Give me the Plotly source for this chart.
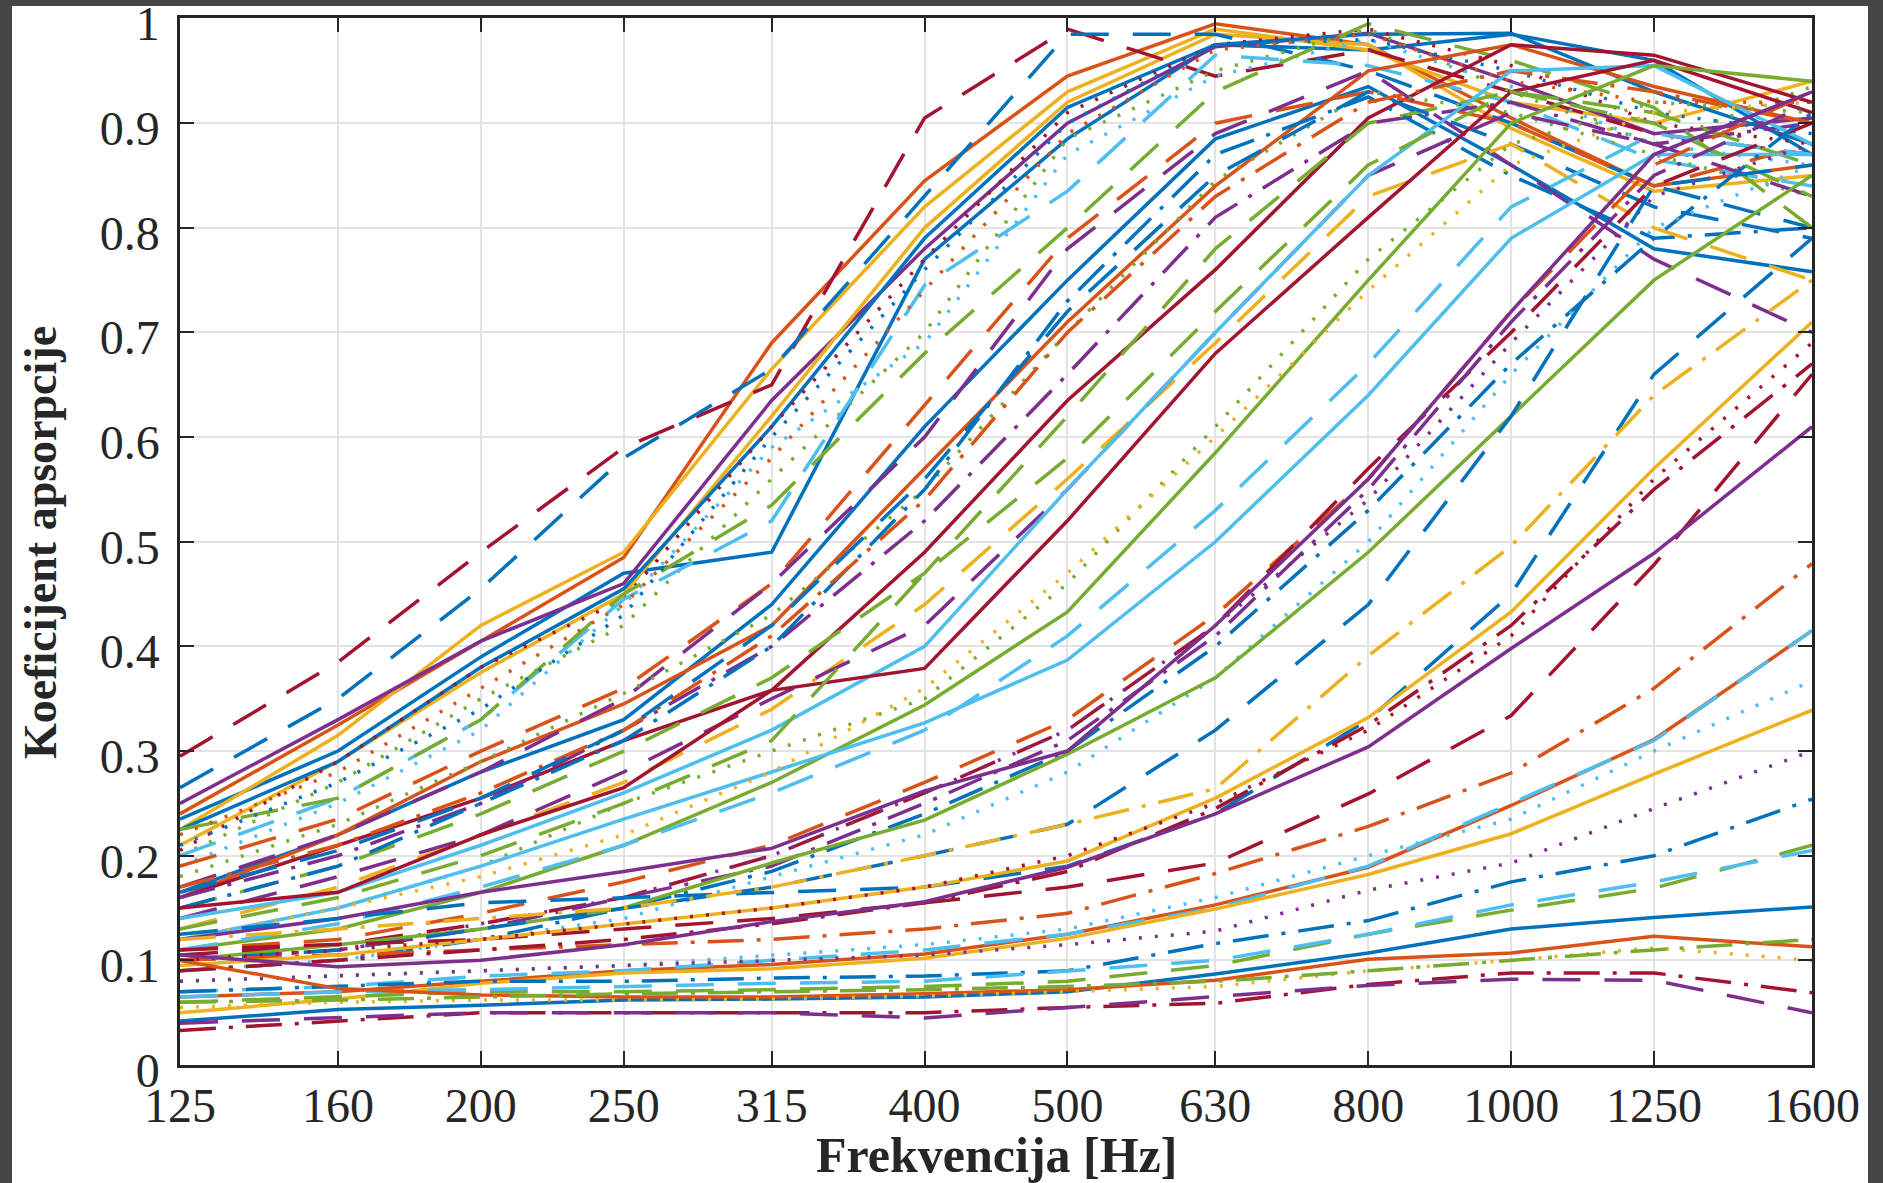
import math
import plotly.graph_objects as go

# ---------------- data ----------------
freqs = [125, 160, 200, 250, 315, 400, 500, 630, 800, 1000, 1250, 1600]
freq_labels = ["125", "160", "200", "250", "315", "400", "500", "630", "800", "1000", "1250", "1600"]
y_ticks = [0, 0.1, 0.2, 0.3, 0.4, 0.5, 0.6, 0.7, 0.8, 0.9, 1.0]
y_labels = ["0", "0.1", "0.2", "0.3", "0.4", "0.5", "0.6", "0.7", "0.8", "0.9", "1"]

# top family (peak near 630-800 Hz)
s01 = [0.235, 0.30, 0.39, 0.47, 0.49, 0.77, 0.885, 0.975, 0.97, 0.985, 0.96, 0.87]
s02 = [0.24, 0.325, 0.405, 0.485, 0.69, 0.845, 0.945, 0.995, 0.975, 0.905, 0.84, 0.86]
s03 = [0.225, 0.315, 0.42, 0.49, 0.665, 0.82, 0.93, 0.99, 0.97, 0.92, 0.90, 0.94]
s04 = [0.25, 0.33, 0.405, 0.46, 0.635, 0.78, 0.90, 0.973, 0.986, 0.94, 0.89, 0.905]
s05 = [0.21, 0.29, 0.375, 0.45, 0.62, 0.80, 0.92, 0.985, 0.975, 0.895, 0.835, 0.85]
s06 = [0.225, 0.29, 0.38, 0.455, 0.61, 0.79, 0.915, 0.975, 0.985, 0.986, 0.93, 0.88]
s07 = [0.295, 0.385, 0.49, 0.59, 0.65, 0.905, 0.99, 0.945, 0.97, 0.93, 0.89, 0.87]
s08 = [0.265, 0.35, 0.455, 0.58, 0.665, 0.83, 0.985, 0.985, 0.95, 0.90, 0.84, 0.80]
s09 = [0.205, 0.29, 0.38, 0.445, 0.61, 0.77, 0.91, 0.975, 0.99, 0.955, 0.90, 0.88]
s10 = [0.20, 0.27, 0.35, 0.42, 0.56, 0.70, 0.885, 0.95, 0.99, 0.93, 0.88, 0.935]
s11 = [0.20, 0.255, 0.33, 0.445, 0.52, 0.745, 0.835, 0.965, 0.955, 0.92, 0.865, 0.84]
s12 = [0.19, 0.25, 0.32, 0.44, 0.59, 0.69, 0.87, 0.945, 0.98, 0.935, 0.88, 0.86]
s13 = [0.225, 0.255, 0.33, 0.45, 0.535, 0.68, 0.80, 0.93, 0.995, 0.96, 0.915, 0.80]
s14 = [0.21, 0.27, 0.34, 0.43, 0.60, 0.76, 0.90, 0.975, 0.98, 0.95, 0.91, 0.89]
s15 = [0.22, 0.28, 0.36, 0.44, 0.58, 0.74, 0.89, 0.97, 0.985, 0.94, 0.92, 0.92]
# second family
s16 = [0.165, 0.22, 0.28, 0.33, 0.44, 0.61, 0.75, 0.885, 0.935, 0.86, 0.78, 0.758]
s17 = [0.16, 0.22, 0.29, 0.345, 0.42, 0.57, 0.71, 0.84, 0.95, 0.975, 0.935, 0.90]
s18 = [0.16, 0.21, 0.255, 0.31, 0.358, 0.49, 0.635, 0.76, 0.905, 0.975, 0.965, 0.92]
s19 = [0.19, 0.235, 0.30, 0.36, 0.46, 0.63, 0.79, 0.90, 0.93, 0.90, 0.84, 0.88]
s20 = [0.17, 0.22, 0.28, 0.35, 0.46, 0.60, 0.78, 0.89, 0.95, 0.86, 0.77, 0.70]
s21 = [0.18, 0.23, 0.29, 0.355, 0.43, 0.55, 0.70, 0.845, 0.93, 0.91, 0.87, 0.83]
s22 = [0.16, 0.20, 0.25, 0.32, 0.40, 0.52, 0.66, 0.81, 0.90, 0.92, 0.88, 0.90]
s23 = [0.15, 0.19, 0.24, 0.30, 0.37, 0.47, 0.62, 0.78, 0.90, 0.93, 0.91, 0.86]
s24 = [0.15, 0.19, 0.25, 0.31, 0.40, 0.55, 0.73, 0.87, 0.925, 0.85, 0.79, 0.80]
s25 = [0.17, 0.21, 0.26, 0.32, 0.41, 0.54, 0.70, 0.83, 0.92, 0.95, 0.93, 0.90]
s26 = [0.165, 0.205, 0.255, 0.32, 0.42, 0.56, 0.72, 0.85, 0.93, 0.88, 0.82, 0.79]
# third family
s27 = [0.13, 0.17, 0.22, 0.27, 0.34, 0.44, 0.56, 0.69, 0.83, 0.88, 0.80, 0.75]
s28 = [0.14, 0.18, 0.22, 0.28, 0.35, 0.42, 0.55, 0.70, 0.85, 0.91, 0.88, 0.83]
s29 = [0.14, 0.165, 0.21, 0.26, 0.32, 0.40, 0.55, 0.70, 0.85, 0.95, 0.955, 0.88]
s30 = [0.15, 0.165, 0.22, 0.265, 0.358, 0.379, 0.52, 0.68, 0.81, 0.93, 0.96, 0.91]
s31 = [0.12, 0.15, 0.19, 0.25, 0.30, 0.35, 0.46, 0.61, 0.77, 0.88, 0.92, 0.91]
s32 = [0.11, 0.13, 0.165, 0.21, 0.27, 0.344, 0.433, 0.585, 0.75, 0.90, 0.955, 0.94]
s33 = [0.12, 0.15, 0.19, 0.235, 0.28, 0.327, 0.387, 0.50, 0.64, 0.79, 0.87, 0.87]
s34 = [0.13, 0.16, 0.20, 0.25, 0.31, 0.47, 0.58, 0.72, 0.86, 0.93, 0.90, 0.83]
s35 = [0.12, 0.15, 0.18, 0.22, 0.28, 0.36, 0.47, 0.60, 0.74, 0.86, 0.91, 0.92]
s36 = [0.11, 0.135, 0.17, 0.21, 0.26, 0.32, 0.41, 0.53, 0.67, 0.82, 0.89, 0.87]
# fourth family
s37 = [0.11, 0.12, 0.145, 0.175, 0.21, 0.27, 0.33, 0.43, 0.56, 0.72, 0.86, 0.93]
s38 = [0.105, 0.115, 0.135, 0.16, 0.20, 0.26, 0.32, 0.42, 0.57, 0.70, 0.84, 0.90]
s39 = [0.10, 0.11, 0.13, 0.16, 0.19, 0.25, 0.31, 0.41, 0.55, 0.71, 0.85, 0.92]
s40 = [0.09, 0.10, 0.12, 0.15, 0.185, 0.24, 0.30, 0.40, 0.53, 0.67, 0.79, 0.91]
s41 = [0.10, 0.11, 0.135, 0.16, 0.20, 0.26, 0.32, 0.42, 0.54, 0.69, 0.83, 0.88]
s42 = [0.09, 0.10, 0.12, 0.14, 0.18, 0.22, 0.28, 0.37, 0.50, 0.66, 0.80, 0.86]
s43 = [0.10, 0.115, 0.13, 0.15, 0.193, 0.234, 0.297, 0.37, 0.49, 0.62, 0.75, 0.85]
s44 = [0.12, 0.14, 0.165, 0.185, 0.207, 0.262, 0.30, 0.42, 0.56, 0.72, 0.87, 0.93]
s45 = [0.10, 0.11, 0.13, 0.15, 0.17, 0.20, 0.23, 0.32, 0.44, 0.62, 0.84, 0.86]
s46 = [0.125, 0.14, 0.155, 0.16, 0.165, 0.17, 0.19, 0.24, 0.33, 0.45, 0.66, 0.79]
# fifth family (low)
s47 = [0.12, 0.13, 0.14, 0.15, 0.17, 0.20, 0.23, 0.264, 0.391, 0.496, 0.64, 0.75]
s48 = [0.11, 0.115, 0.12, 0.13, 0.14, 0.155, 0.17, 0.193, 0.259, 0.334, 0.478, 0.66]
s49 = [0.10, 0.105, 0.11, 0.115, 0.12, 0.13, 0.145, 0.183, 0.228, 0.279, 0.36, 0.479]
s50 = [0.095, 0.105, 0.12, 0.135, 0.15, 0.17, 0.195, 0.255, 0.332, 0.433, 0.57, 0.71]
s51 = [0.10, 0.11, 0.12, 0.135, 0.15, 0.17, 0.20, 0.25, 0.32, 0.41, 0.56, 0.69]
s52 = [0.09, 0.10, 0.11, 0.12, 0.135, 0.155, 0.185, 0.245, 0.325, 0.42, 0.55, 0.67]
s53 = [0.105, 0.094, 0.10, 0.115, 0.137, 0.156, 0.189, 0.24, 0.304, 0.398, 0.489, 0.61]
s54 = [0.065, 0.07, 0.08, 0.09, 0.096, 0.106, 0.125, 0.153, 0.189, 0.248, 0.311, 0.415]
s55 = [0.07, 0.075, 0.085, 0.09, 0.10, 0.11, 0.125, 0.15, 0.19, 0.25, 0.31, 0.415]
s56 = [0.08, 0.085, 0.09, 0.095, 0.105, 0.115, 0.13, 0.16, 0.20, 0.235, 0.30, 0.367]
s57 = [0.05, 0.063, 0.078, 0.088, 0.092, 0.102, 0.121, 0.149, 0.182, 0.221, 0.278, 0.339]
s58 = [0.08, 0.085, 0.09, 0.095, 0.10, 0.105, 0.115, 0.128, 0.167, 0.193, 0.245, 0.30]
s59 = [0.07, 0.075, 0.08, 0.08, 0.083, 0.085, 0.09, 0.116, 0.138, 0.175, 0.20, 0.254]
s60 = [0.06, 0.065, 0.07, 0.07, 0.072, 0.075, 0.08, 0.095, 0.125, 0.148, 0.169, 0.21]
s61 = [0.065, 0.07, 0.072, 0.075, 0.078, 0.08, 0.09, 0.10, 0.125, 0.153, 0.175, 0.205]
s62 = [0.042, 0.053, 0.057, 0.062, 0.063, 0.065, 0.07, 0.087, 0.107, 0.13, 0.141, 0.151]
s63 = [0.10, 0.073, 0.067, 0.065, 0.065, 0.068, 0.072, 0.081, 0.101, 0.107, 0.123, 0.113]
s64 = [0.055, 0.06, 0.062, 0.062, 0.063, 0.066, 0.07, 0.075, 0.09, 0.10, 0.112, 0.10]
s65 = [0.033, 0.042, 0.05, 0.05, 0.05, 0.05, 0.055, 0.059, 0.077, 0.088, 0.088, 0.069]
s66 = [0.04, 0.045, 0.05, 0.05, 0.05, 0.045, 0.055, 0.065, 0.076, 0.082, 0.081, 0.05]
s67 = [0.06, 0.062, 0.065, 0.068, 0.07, 0.072, 0.075, 0.08, 0.09, 0.10, 0.11, 0.12]

# ---------------- styles ----------------
C = {"B": "#0072BD", "O": "#D95319", "Y": "#EDB120", "P": "#7E2F8E",
     "G": "#77AC30", "C": "#4DBEEE", "R": "#A2142F"}
D = {"-": "solid", "--": "38px,24px", ":": "3px,13px", "-.": "36px,13px,4px,13px"}

series = [
    (s01, "B", "-"), (s02, "O", "-"), (s03, "Y", "-"), (s04, "P", "-"), (s05, "Y", "-"),
    (s06, "B", "-"), (s07, "R", "--"), (s08, "B", "--"), (s09, "R", ":"), (s10, "G", ":"),
    (s11, "C", "--"), (s12, "C", ":"), (s13, "G", "--"), (s14, "B", ":"), (s15, "O", ":"),
    (s16, "B", "-"), (s17, "O", "-"), (s18, "R", "-"), (s19, "O", "--"), (s20, "P", "--"),
    (s21, "G", ":"), (s22, "P", "-."), (s23, "G", "--"), (s24, "B", "-."), (s25, "O", "-."),
    (s26, "B", "--"), (s27, "Y", "--"), (s28, "P", "--"), (s29, "C", "-"), (s30, "R", "-"),
    (s31, "G", ":"), (s32, "G", "-"), (s33, "C", "-"), (s34, "G", "--"), (s35, "Y", ":"),
    (s36, "C", "--"), (s37, "O", "--"), (s38, "R", "--"), (s39, "P", "-."), (s40, "B", "-."),
    (s41, "P", ":"), (s42, "C", ":"), (s43, "G", "-"), (s44, "P", "-"), (s45, "B", "--"),
    (s46, "B", "--"), (s47, "Y", "-."), (s48, "R", "--"), (s49, "O", "-."), (s50, "Y", "-"),
    (s51, "R", ":"), (s52, "R", "-."), (s53, "P", "-"), (s54, "O", "-"), (s55, "C", "--"),
    (s56, "C", ":"), (s57, "Y", "-"), (s58, "P", ":"), (s59, "B", "-."), (s60, "G", "--"),
    (s61, "C", "--"), (s62, "B", "-"), (s63, "O", "-"), (s64, "Y", ":"), (s65, "R", "-."),
    (s66, "P", "--"), (s67, "G", "-."),
]

fig = go.Figure()
for vals, col, sty in series:
    fig.add_trace(go.Scatter(
        x=freqs, y=vals, mode="lines",
        line=dict(color=C[col], width=3.5, dash=D[sty]),
        showlegend=False, hoverinfo="skip"))

# ---------------- layout ----------------
W, H = 1883, 1183
L, R, T, B = 180, 1812, 18, 1065


def px_x(p):
    return (p - L) / (R - L)


def px_y(p):
    return (B - p) / (B - T)


frame = "#454545"
shapes = []
for (x0, y0, x1, y1) in [(0, 0, 12, H), (0, 0, W, 6), (1868, 0, W, H)]:
    shapes.append(dict(type="rect", xref="paper", yref="paper",
                       x0=px_x(x0), x1=px_x(x1), y0=px_y(y1), y1=px_y(y0),
                       fillcolor=frame, line=dict(width=0), layer="above"))

axis_common = dict(
    showline=True, linecolor="#262626", linewidth=2.5, mirror="ticks",
    ticks="inside", ticklen=14, tickwidth=2, tickcolor="#262626",
    showgrid=True, gridcolor="#E3E3E3", gridwidth=2, zeroline=False,
    ticklabeloverflow="allow", automargin=False,
    tickfont=dict(family="Liberation Serif", size=48, color="#262626"),
)

fig.update_layout(
    width=W, height=H,
    margin=dict(l=L, r=W - R, t=T, b=H - B, autoexpand=False),
    paper_bgcolor="white", plot_bgcolor="white",
    shapes=shapes,
    xaxis=dict(type="log", range=[math.log10(125), math.log10(1600)],
               tickvals=freqs, ticktext=freq_labels, ticklabelstandoff=-3,
               **axis_common),
    yaxis=dict(range=[0, 1.0005], tickvals=y_ticks, ticktext=y_labels,
               ticklabelstandoff=8, ticklabelshift=5, **axis_common),
    annotations=[
        dict(text="<b>Frekvencija [Hz]</b>", xref="paper", yref="paper",
             x=0.5, y=px_y(1155), xanchor="center", yanchor="middle",
             showarrow=False,
             font=dict(family="Liberation Serif", size=50, color="#262626")),
        dict(text="<b>Koeficijent apsorpcije</b>", xref="paper", yref="paper",
             x=px_x(40), y=px_y(543), xanchor="center", yanchor="middle",
             textangle=-90, showarrow=False,
             font=dict(family="Liberation Serif", size=46, color="#262626")),
    ],
)

fig.write_html("out.html",
               config={"displayModeBar": False},
               post_script="document.body.style.margin='0';document.body.style.overflow='hidden';")
